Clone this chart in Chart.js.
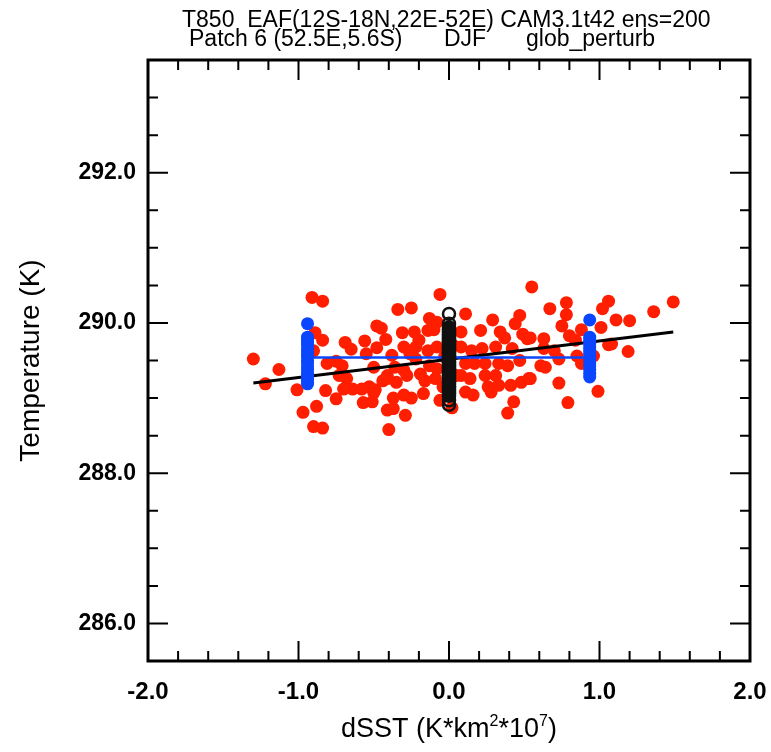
<!DOCTYPE html>
<html>
<head>
<meta charset="utf-8">
<script src="https://cdn.jsdelivr.net/npm/chart.js@4.4.1/dist/chart.umd.min.js"></script>
<style>
  html, body { margin: 0; padding: 0; background: #fff; }
  #wrap { width: 771px; height: 752px; }
</style>
</head>
<body>
<div id="wrap"><canvas id="chart" width="771" height="752"></canvas></div>
<script>
const FONT = '"Liberation Sans", Arial, Helvetica, sans-serif';

// Ensemble members (red dots): dSST and T850
const memberX = [
  -1.30, -1.22, -1.13, -1.01, -0.91, -0.84, -0.97, -0.88, -0.90, -0.84,
  -0.82, -0.89, -0.84, -0.90, -0.69, -0.65, -0.56, -0.48, -0.45, -0.42,
  -0.48, -0.55, -0.75, -0.81, -0.71, -0.73, -0.68, -0.70, -0.64, -0.58,
  -0.75, -0.57, -0.51, -0.49, -0.44, -0.41, -0.41, -0.40, -0.50, -0.34,
  -0.25, -0.06, -0.13, -0.08, -0.14, -0.10, -0.31, -0.23, -0.20, -0.30,
  -0.22, -0.14, -0.08, -0.38, -0.26, -0.22, -0.13, -0.08, -0.36, -0.30,
  -0.41, -0.35, -0.28, -0.19, -0.16, -0.09, -0.53, -0.50, -0.37, -0.30,
  -0.25, -0.17, -0.06, -0.37, -0.29, 0.02, 0.11, 0.08, 0.21, 0.29,
  0.34, 0.37, 0.47, 0.44, 0.49, 0.52, 0.55, 0.08, 0.15, 0.22,
  0.31, 0.42, 0.47, 0.11, 0.17, 0.24, 0.33, 0.39, 0.08, 0.14,
  0.24, 0.31, 0.26, 0.33, 0.41, 0.48, 0.53, 0.11, 0.16, 0.28,
  0.43, 0.39, 0.67, 0.78, 0.78, 0.75, 0.88, 1.01, 1.06, 1.02,
  1.11, 1.20, 1.36, 1.49, 0.63, 0.80, 0.84, 0.54, 0.70, 0.63,
  1.06, 1.08, 1.19, 0.73, 0.85, 0.96, 0.61, 0.64, 0.88, 0.54,
  0.73, 0.99, 0.79, 0.03, -0.03, 0.05, -0.04
];
const memberY = [
  289.52, 289.19, 289.38, 289.11, 290.34, 290.29, 288.81, 288.89, 288.62, 288.60,
  289.10, 289.87, 289.77, 289.63, 289.74, 289.65, 289.76, 289.96, 289.93, 289.78,
  289.67, 289.59, 289.49, 289.46, 289.43, 289.30, 289.26, 289.12, 289.12, 289.12,
  288.99, 288.94, 288.95, 289.11, 289.23, 289.30, 288.84, 288.58, 289.41, 290.18,
  290.20, 290.38, 290.06, 290.01, 289.90, 289.91, 289.87, 289.88, 289.77, 289.68,
  289.68, 289.63, 289.68, 289.57, 289.59, 289.52, 289.43, 289.39, 289.41, 289.37,
  289.26, 289.21, 289.30, 289.32, 289.23, 289.26, 289.15, 289.07, 289.00, 289.04,
  289.00, 289.06, 288.97, 288.86, 288.77, 288.87, 290.12, 289.88, 289.90, 290.04,
  289.88, 289.80, 290.10, 289.99, 289.85, 289.79, 290.48, 289.68, 289.63, 289.66,
  289.68, 289.66, 289.50, 289.46, 289.46, 289.46, 289.46, 289.43, 289.30, 289.26,
  289.30, 289.30, 289.15, 289.17, 289.17, 289.21, 289.26, 289.08, 289.04, 289.08,
  288.95, 288.80, 290.19, 290.27, 290.11, 289.96, 289.91, 289.94, 290.29, 290.19,
  290.04, 290.03, 290.15, 290.28, 289.79, 289.83, 289.77, 289.80, 289.63, 289.66,
  289.71, 289.72, 289.62, 289.52, 289.56, 289.56, 289.43, 289.41, 289.46, 289.26,
  289.20, 289.09, 288.94, 289.70, 289.55, 289.30, 289.15
];

// Control runs at dSST = 0 (open black circles)
const controlX = 0;
const controlY = [
  290.12, 289.99, 289.94, 289.92, 289.90, 289.88, 289.87, 289.85, 289.84, 289.82,
  289.81, 289.79, 289.78, 289.76, 289.75, 289.74, 289.72, 289.71, 289.69, 289.68,
  289.66, 289.65, 289.64, 289.62, 289.61, 289.60, 289.58, 289.57, 289.56, 289.54,
  289.53, 289.52, 289.51, 289.49, 289.48, 289.47, 289.45, 289.44, 289.43, 289.41,
  289.40, 289.39, 289.37, 289.36, 289.34, 289.33, 289.32, 289.30, 289.29, 289.27,
  289.26, 289.24, 289.23, 289.21, 289.20, 289.18, 289.16, 289.15, 289.13, 289.11,
  289.09, 289.07, 289.05, 289.03, 288.97, 288.91
];

// Patch experiments (blue dots) at negative / positive dSST
const patchNegX = -0.94;
const patchNegY = [
  289.99, 289.81, 289.78, 289.74, 289.71, 289.66, 289.62, 289.58, 289.55, 289.50,
  289.47, 289.42, 289.38, 289.33, 289.29, 289.25, 289.21, 289.19
];
const patchPosX = 0.935;
const patchPosY = [
  290.04, 289.81, 289.77, 289.73, 289.68, 289.64, 289.60, 289.56, 289.52, 289.47,
  289.43, 289.38, 289.33, 289.28
];

// Lines: regression through members (black), patch mean (blue)
const fitX = [-1.30, 1.49];
const fitY = [289.20, 289.88];
const patchMeanX = [-0.94, 0.935];
const patchMeanY = [289.54, 289.54];

// Axes
const xTicks = [-2, -1, 0, 1, 2];
const yTicks = [286, 288, 290, 292];

const RED = '#ff1e00';
const BLUE = '#0a46ff';

const pts = (xs, ys) => ys.map((y, i) => ({ x: Array.isArray(xs) ? xs[i] : xs, y }));

// Inward ticks on all four sides plus the frame
const frameTicks = {
    id: 'frameTicks',
    afterDatasetsDraw(chart) {
        const { ctx, chartArea: a, scales: { x, y } } = chart;
        ctx.save();
        ctx.strokeStyle = '#000';
        ctx.lineWidth = 2;
        ctx.beginPath();
        for (let i = 0; i <= 20; i++) {
            const px = x.getPixelForValue(-2 + i * 0.2);
            const len = i % 5 === 0 ? 20 : 10;
            ctx.moveTo(px, a.bottom); ctx.lineTo(px, a.bottom - len);
            ctx.moveTo(px, a.top); ctx.lineTo(px, a.top + len);
        }
        for (let i = 0; i <= 16; i++) {
            const py = y.getPixelForValue(285.5 + i * 0.5);
            const len = (i - 1) % 4 === 0 ? 20 : 10;
            ctx.moveTo(a.left, py); ctx.lineTo(a.left + len, py);
            ctx.moveTo(a.right, py); ctx.lineTo(a.right - len, py);
        }
        ctx.stroke();
        ctx.lineWidth = 3;
        ctx.strokeRect(a.left, a.top, a.right - a.left, a.bottom - a.top);
        ctx.restore();
    }
};

// Two-line title and x axis title with superscripts
const texts = {
    id: 'texts',
    afterDraw(chart) {
        const { ctx, chartArea: a } = chart;
        ctx.save();
        ctx.fillStyle = '#000';
        ctx.textBaseline = 'alphabetic';
        ctx.textAlign = 'left';
        ctx.font = `23px ${FONT}`;
        ctx.fillText('T850  EAF(12S-18N,22E-52E) CAM3.1t42 ens=200', 182, 27);
        ctx.fillText('Patch 6 (52.5E,5.6S)', 189, 46);
        ctx.fillText('DJF', 444, 46);
        ctx.fillText('glob_perturb', 526, 46);

        const parts = [
            ['dSST (K*km', 27, 0], ['2', 16, -11], ['*10', 27, 0], ['7', 16, -11], [')', 27, 0]
        ];
        let total = 0;
        parts.forEach(p => { ctx.font = `${p[1]}px ${FONT}`; total += ctx.measureText(p[0]).width; });
        let cx = (a.left + a.right) / 2 - total / 2;
        const base = 737;
        parts.forEach(p => {
            ctx.font = `${p[1]}px ${FONT}`;
            ctx.fillText(p[0], cx, base + p[2]);
            cx += ctx.measureText(p[0]).width;
        });
        ctx.restore();
    }
};

new Chart(document.getElementById('chart'), {
    type: 'scatter',
    data: {
        datasets: [
            {
                label: 'members',
                data: pts(memberX, memberY),
                backgroundColor: RED,
                borderWidth: 0,
                pointRadius: 6.5,
                order: 5
            },
            {
                label: 'fit',
                data: pts(fitX, fitY),
                showLine: true,
                borderColor: '#000',
                borderWidth: 3,
                pointRadius: 0,
                order: 4
            },
            {
                label: 'patch mean',
                data: pts(patchMeanX, patchMeanY),
                showLine: true,
                borderColor: BLUE,
                borderWidth: 2.5,
                pointRadius: 0,
                order: 3
            },
            {
                label: 'control',
                data: pts(controlX, controlY),
                backgroundColor: 'rgba(0,0,0,0)',
                borderColor: '#111',
                borderWidth: 2.5,
                pointRadius: 6,
                order: 2
            },
            {
                label: 'patch',
                data: pts(patchNegX, patchNegY).concat(pts(patchPosX, patchPosY)),
                backgroundColor: BLUE,
                borderWidth: 0,
                pointRadius: 6.5,
                order: 1
            }
        ]
    },
    options: {
        responsive: false,
        animation: false,
        layout: { padding: { top: 60, right: 21, left: 0, bottom: 0 } },
        plugins: {
            legend: { display: false },
            tooltip: { enabled: false },
            title: { display: false }
        },
        scales: {
            x: {
                type: 'linear',
                min: -2,
                max: 2,
                afterFit: s => { s.height = 91; s.paddingLeft = 0; s.paddingRight = 0; },
                afterBuildTicks: s => { s.ticks = xTicks.map(v => ({ value: v })); },
                grid: { display: false, drawTicks: false },
                border: { display: false },
                ticks: {
                    padding: 17,
                    color: '#000',
                    maxRotation: 0,
                    autoSkip: false,
                    font: { family: FONT, size: 24, weight: 'bold' },
                    callback: v => v.toFixed(1)
                }
            },
            y: {
                type: 'linear',
                min: 285.5,
                max: 293.5,
                afterFit: s => { s.width = 148; s.paddingTop = 0; s.paddingBottom = 0; },
                afterBuildTicks: s => { s.ticks = yTicks.map(v => ({ value: v })); },
                grid: { display: false, drawTicks: false },
                border: { display: false },
                ticks: {
                    padding: 12,
                    color: '#000',
                    autoSkip: false,
                    font: { family: FONT, size: 23, weight: 'bold' },
                    callback: v => v.toFixed(1)
                },
                title: {
                    display: true,
                    text: 'Temperature (K)',
                    color: '#000',
                    font: { family: FONT, size: 28 },
                    padding: { top: 14, bottom: 0 }
                }
            }
        }
    },
    plugins: [frameTicks, texts]
});
</script>
</body>
</html>
